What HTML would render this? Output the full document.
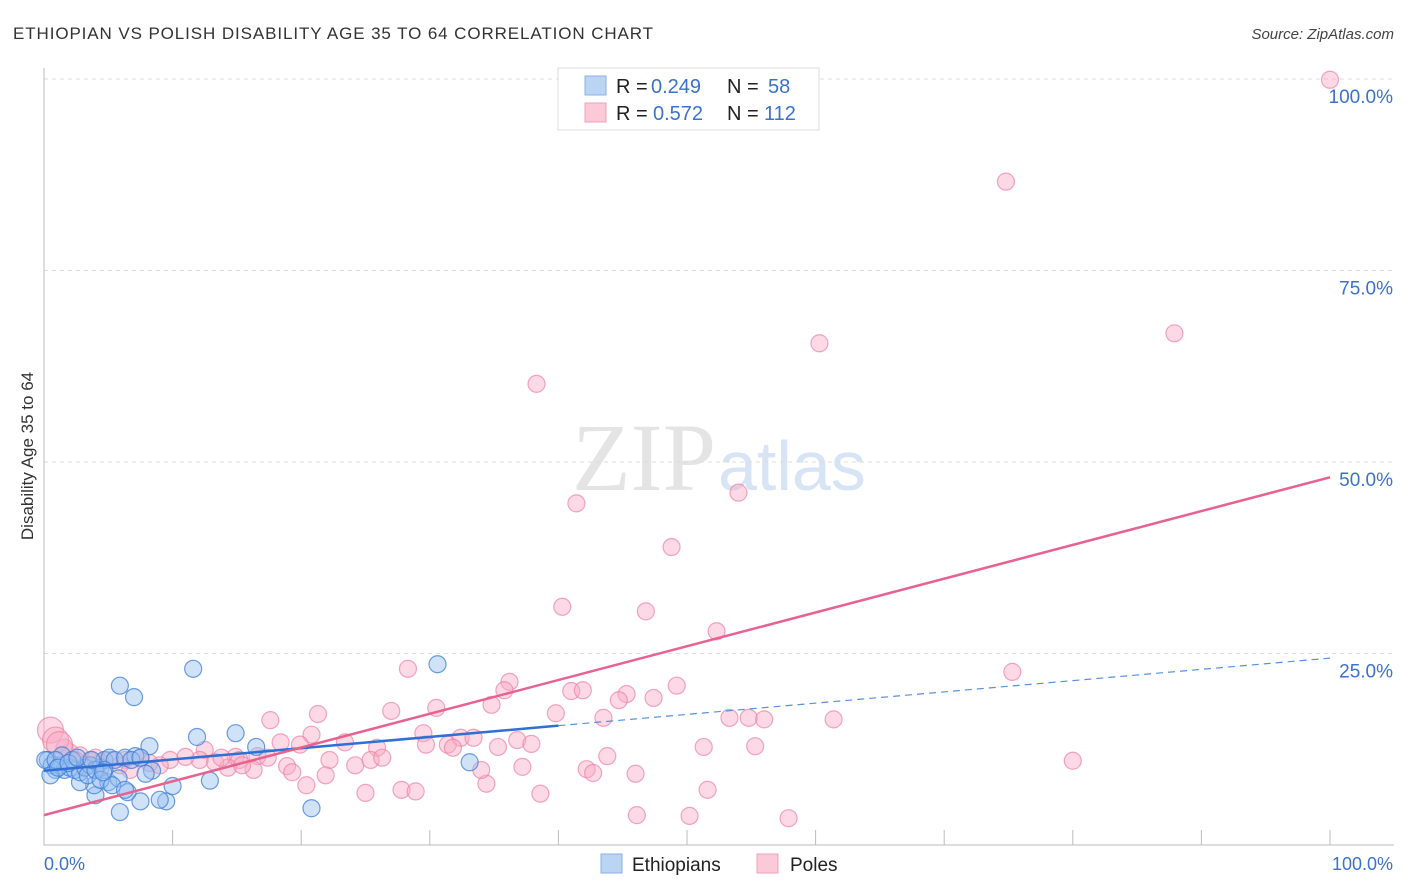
<!DOCTYPE html>
<html><head><meta charset="utf-8"><style>
body{margin:0;background:#fff;font-family:"Liberation Sans",sans-serif;}
</style></head><body>
<svg id="c" width="1406" height="892" xmlns="http://www.w3.org/2000/svg" style="display:block">
<text x="13" y="39" font-size="17" fill="#333" letter-spacing="0.9">ETHIOPIAN VS POLISH DISABILITY AGE 35 TO 64 CORRELATION CHART</text>
<text x="1394" y="39" font-size="15" fill="#444" font-style="italic" text-anchor="end">Source: ZipAtlas.com</text>
<text x="716" y="490" font-size="96" text-anchor="end" fill="#e4e4e4" font-family="Liberation Serif">ZIP</text>
<text x="718" y="490" font-size="70" fill="#d6e4f5">atlas</text>
<text transform="translate(33,456) rotate(-90)" font-size="17" fill="#333" text-anchor="middle">Disability Age 35 to 64</text>
<g id="grid"></g><g id="pts"></g><g id="lines"></g>
<g>
<rect x="558" y="68" width="261" height="62" fill="#fff" stroke="#ddd"/>
<rect x="585" y="76" width="21" height="19" fill="#bcd4f4" stroke="#8ab0e8"/>
<rect x="585" y="103" width="21" height="19" fill="#fbc9d7" stroke="#f0a0b8"/>
<text x="616" y="93" font-size="20" fill="#222">R =</text>
<text x="651" y="93" font-size="20" fill="#3a72cc">0.249</text>
<text x="727" y="93" font-size="20" fill="#222">N =</text>
<text x="768" y="93" font-size="20" fill="#3a72cc">58</text>
<text x="616" y="120" font-size="20" fill="#222">R =</text>
<text x="653" y="120" font-size="20" fill="#3a72cc">0.572</text>
<text x="727" y="120" font-size="20" fill="#222">N =</text>
<text x="764" y="120" font-size="20" fill="#3a72cc">112</text>
</g>
<g>
<rect x="601" y="854" width="21" height="19" fill="#bcd4f4" stroke="#8ab0e8"/>
<text x="632" y="871" font-size="19" fill="#222">Ethiopians</text>
<rect x="757" y="854" width="21" height="19" fill="#fbc9d7" stroke="#f0a0b8"/>
<text x="790" y="871" font-size="19" fill="#222">Poles</text>
</g>
<text x="44" y="870" font-size="18" fill="#3a72cc">0.0%</text>
<text x="1393" y="870" font-size="18" fill="#3a72cc" text-anchor="end">100.0%</text>
</svg>
<script>
const blueX=[5.9,7.0,11.6,30.6,14.9,11.9,16.5,8.2,33.1,12.9,20.8,5.9,7.5,9.5,10.0,6.5,4.0,3.9,5.0,2.8,5.8,8.4,7.9,0.3,0.6,0.9,1.2,1.6,2.0,2.4,2.8,3.2,3.6,4.4,4.7,5.1,5.5,6.3,7.1,4.7,1.4,2.2,3.4,4.0,4.4,5.3,6.3,6.8,7.5,0.1,0.5,0.9,1.1,1.9,2.6,3.7,4.6,9.0];
const blueY=[20.8,19.3,23.0,23.6,14.6,14.1,12.8,12.9,10.8,8.4,4.8,4.3,5.7,5.7,7.7,6.9,6.5,7.8,8.2,8.2,8.7,9.7,9.3,11.1,10.4,9.8,10.4,9.8,10.1,9.8,9.5,10.1,10.4,10.1,11.1,11.4,11.1,11.4,11.6,9.8,11.7,11.1,9.1,9.8,8.5,7.8,7.2,11.1,11.4,11.1,9.1,11.1,10.1,10.7,11.4,11.1,9.5,5.9];
const pinkX=[100,74.8,87.9,60.3,38.3,54.0,41.4,48.8,40.3,46.8,52.3,28.3,75.3,36.2,35.8,41.0,41.9,45.3,47.4,49.2,44.7,30.5,34.8,39.8,43.5,53.3,54.8,56.0,61.4,21.3,27.0,17.6,20.8,23.4,25.9,29.5,31.4,32.4,33.4,35.3,36.8,37.9,19.9,22.2,24.2,25.4,26.3,29.7,31.8,51.3,55.3,43.8,80.0,18.4,16.6,14.9,12.5,18.9,16.3,15.2,14.3,13.3,12.1,11.0,9.8,9.0,8.2,7.5,6.3,5.1,4.4,3.6,2.8,2.0,1.6,2.4,3.2,4.0,19.3,21.9,20.4,25.0,27.8,28.9,34.4,34.0,37.2,42.2,42.7,46.0,38.6,51.6,46.1,50.2,57.9,15.4,17.4,13.8,5.9,6.7,0.5,0.9,1.2];
const pinkY=[99.9,86.6,66.8,65.5,60.2,46.0,44.6,38.9,31.1,30.5,27.9,23.0,22.6,21.3,20.2,20.1,20.2,19.7,19.2,20.8,18.9,17.9,18.3,17.2,16.6,16.6,16.6,16.4,16.4,17.1,17.5,16.3,14.4,13.4,12.7,14.6,13.1,14.0,14.0,12.8,13.7,13.2,13.1,11.1,10.4,11.1,11.4,13.1,12.7,12.8,12.9,11.6,11.0,13.4,11.6,11.5,12.4,10.3,9.8,11.1,10.1,10.8,11.1,11.5,11.1,10.4,10.7,11.4,11.1,11.1,10.8,11.1,11.7,12.1,12.7,11.1,10.4,11.4,9.5,9.1,7.8,6.8,7.2,7.0,8.0,9.8,10.2,9.9,9.4,9.3,6.7,7.2,3.9,3.8,3.5,10.4,11.4,11.4,10.4,9.8,15.0,13.7,13.1];
const yTicks=[25,50,75,100];
const xTicks=[10,20,30,40,50,60,70,80,90,100];
const blueFit=[9.7,24.4], pinkFit=[3.9,48.0];
const NS="http://www.w3.org/2000/svg";
const X=v=>44+v*12.86, Y=v=>845-v*7.66;
function mk(p,t,a){const e=document.createElementNS(NS,t);for(const k in a)e.setAttribute(k,a[k]);p.appendChild(e);return e;}
const g=document.getElementById('grid');
yTicks.forEach(t=>{const l=mk(g,'line',{x1:44,x2:1394,y1:Y(t),y2:Y(t),stroke:'#ddd','stroke-dasharray':'4,4'});


const tx=mk(g,'text',{x:1393,y:Y(t)+24,'font-size':19,fill:'#3a72cc','text-anchor':'end'});tx.textContent=t.toFixed(1)+'%';

});
xTicks.forEach(t=>{const l=mk(g,'line',{x1:X(t),x2:X(t),y1:830,y2:845,stroke:'#bbb'});

});
const ax=mk(g,'path',{d:'M44,68V845H1394',fill:'none',stroke:'#bbb'});


const P=document.getElementById('pts');
pinkX.forEach((x,i)=>{const r=i>=pinkX.length-3?13:8.5;const c=mk(P,'circle',{cx:X(x),cy:Y(pinkY[i]),r:r,fill:'rgba(248,170,195,0.45)',stroke:'rgba(236,130,165,0.7)','stroke-width':1.2});

});
blueX.forEach((x,i)=>{const c=mk(P,'circle',{cx:X(x),cy:Y(blueY[i]),r:8.5,fill:'rgba(150,190,240,0.45)',stroke:'rgba(60,125,215,0.75)','stroke-width':1.2});

});
const L=document.getElementById('lines');
const bAt=x=>blueFit[0]+(blueFit[1]-blueFit[0])*x/100;
let e=mk(L,'line',{x1:X(0),y1:Y(bAt(0)),x2:X(40),y2:Y(bAt(40)),stroke:'#2f6fd6','stroke-width':2.5});


e=mk(L,'line',{x1:X(40),y1:Y(bAt(40)),x2:X(100),y2:Y(bAt(100)),stroke:'#5a8fdc','stroke-width':1.2,'stroke-dasharray':'7,5'});


e=mk(L,'line',{x1:X(0),y1:Y(pinkFit[0]),x2:X(100),y2:Y(pinkFit[1]),stroke:'#e8628f','stroke-width':2.5});


</script>
</body></html>
